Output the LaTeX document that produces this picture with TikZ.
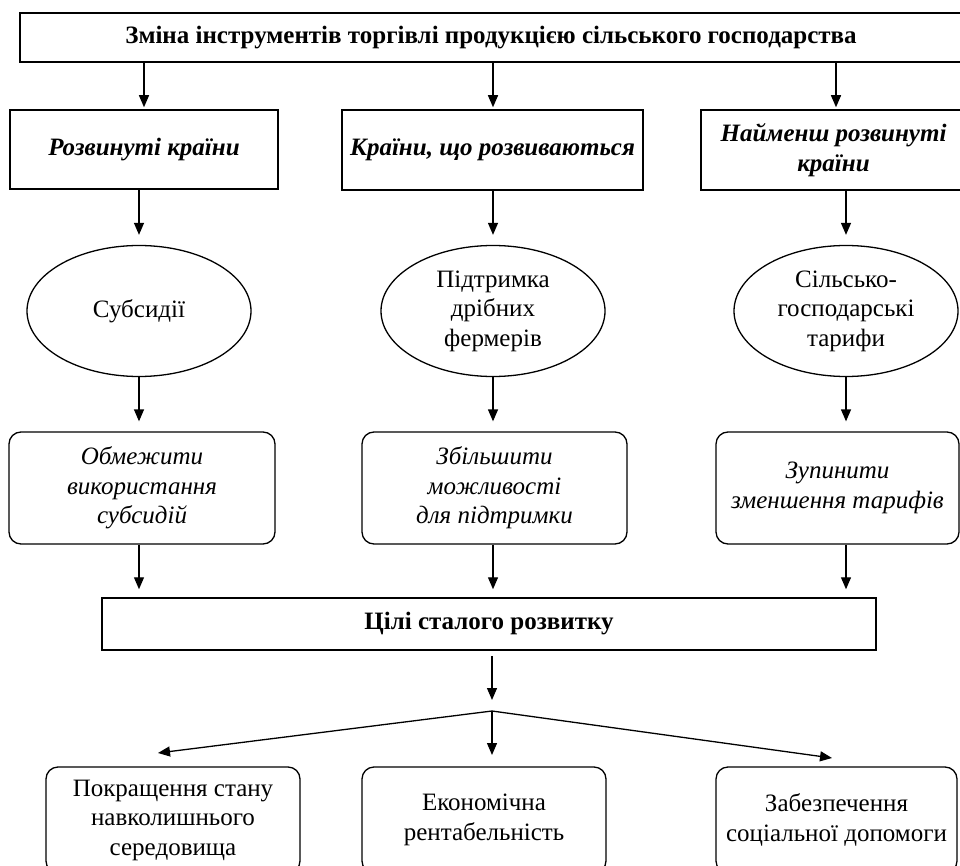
\documentclass[tikz,border=0pt]{standalone}
\usepackage{fontspec}
\setmainfont{Liberation Serif}
\usetikzlibrary{arrows.meta,shapes.geometric}
\newcommand{\myfs}{\fontsize{25}{29.5}\selectfont}
\begin{document}
\begin{tikzpicture}[x=1pt,y=-1pt,
  every node/.style={font=\myfs, align=center, inner sep=0pt},
  box/.style={draw, line width=1.5pt, rectangle},
  bfb/.style={box, font=\myfs\bfseries},
  bib/.style={box, font=\myfs\bfseries\itshape},
  oval/.style={draw, line width=1.3pt, ellipse, minimum width=224pt, minimum height=131pt},
  rbox/.style={draw, line width=1.3pt, rounded corners=12pt},
  ribox/.style={rbox, font=\myfs\itshape},
  arr/.style={line width=1.3pt, -{Triangle[length=12pt,width=10pt]}}]
\useasboundingbox (0,0) rectangle (960,866);
\clip (0,0) rectangle (960,866);
\fill[white] (0,0) rectangle (960,866);

\node[bfb, minimum width=942pt, minimum height=49pt] (top) at (491,37.5)
  {Зміна інструментів торгівлі продукцією сільського господарства};

\node[bib, minimum width=268pt, minimum height=79pt] (l1) at (144,149.5) {Розвинуті країни};
\node[bib, minimum width=301pt, minimum height=80pt] (m1) at (492.5,150) {Країни, що розвиваються};
\node[bib, minimum width=265pt, minimum height=80pt] (r1) at (833.5,150) {Найменш розвинуті\\країни};

\node[oval] (l2) at (139,311) {Субсидії};
\node[oval] (m2) at (493,311) {Підтримка\\дрібних\\фермерів};
\node[oval] (r2) at (846,311) {Сільсько-\\господарські\\тарифи};

\node[ribox, minimum width=266pt, minimum height=112pt] (l3) at (142,488) {Обмежити\\використання\\субсидій};
\node[ribox, minimum width=265pt, minimum height=112pt] (m3) at (494.5,488) {Збільшити\\можливості\\для підтримки};
\node[ribox, minimum width=243pt, minimum height=112pt] (r3) at (837.5,488) {Зупинити\\зменшення тарифів};

\node[bfb, minimum width=774pt, minimum height=52pt] (g) at (489,624) {Цілі сталого розвитку};

\node[rbox, minimum width=254pt, minimum height=106pt] (l4) at (173,820) {Покращення стану\\навколишнього\\середовища};
\node[rbox, minimum width=244pt, minimum height=106pt] (m4) at (484,820) {Економічна\\рентабельність};
\node[rbox, minimum width=241pt, minimum height=106pt] (r4) at (836.5,820) {Забезпечення\\соціальної допомоги};

% top -> row 2
\coordinate (xr) at (836,0);
\draw[arr, shorten >=2pt] (top.south -| l1.north) -- (l1.north);
\draw[arr, shorten >=2pt] (top.south -| m2.north) -- (m1.north -| m2.north);
\draw[arr, shorten >=2pt] (top.south -| xr) -- (r1.north -| xr);

% row 2 -> ellipses
\draw[arr, shorten >=10pt] (l1.south -| l2.north) -- (l2.north);
\draw[arr, shorten >=10pt] (m1.south -| m2.north) -- (m2.north);
\draw[arr, shorten >=10pt] (r1.south -| r2.north) -- (r2.north);

% ellipses -> rounded boxes
\draw[arr, shorten >=10pt] (l2.south) -- (l2.south |- l3.north);
\draw[arr, shorten >=10pt] (m2.south) -- (m2.south |- m3.north);
\draw[arr, shorten >=10pt] (r2.south) -- (r2.south |- r3.north);

% rounded boxes -> goals
\draw[arr, shorten >=8pt] (l3.south -| l2.south) -- (g.north -| l2.south);
\draw[arr, shorten >=8pt] (m3.south -| m2.south) -- (g.north -| m2.south);
\draw[arr, shorten >=8pt] (r3.south -| r2.south) -- (g.north -| r2.south);

% goals -> branches
\coordinate (br) at (492,711);
\coordinate (ga) at (492,700);
\coordinate (tl) at (158,753);
\coordinate (tm) at (492,755);
\coordinate (tr) at (832,758);
\draw[arr, shorten <=5pt] (g.south -| br) -- (ga);
\draw[arr] (br) -- (tl);
\draw[arr] (br) -- (tm);
\draw[arr] (br) -- (tr);
\end{tikzpicture}
\end{document}
